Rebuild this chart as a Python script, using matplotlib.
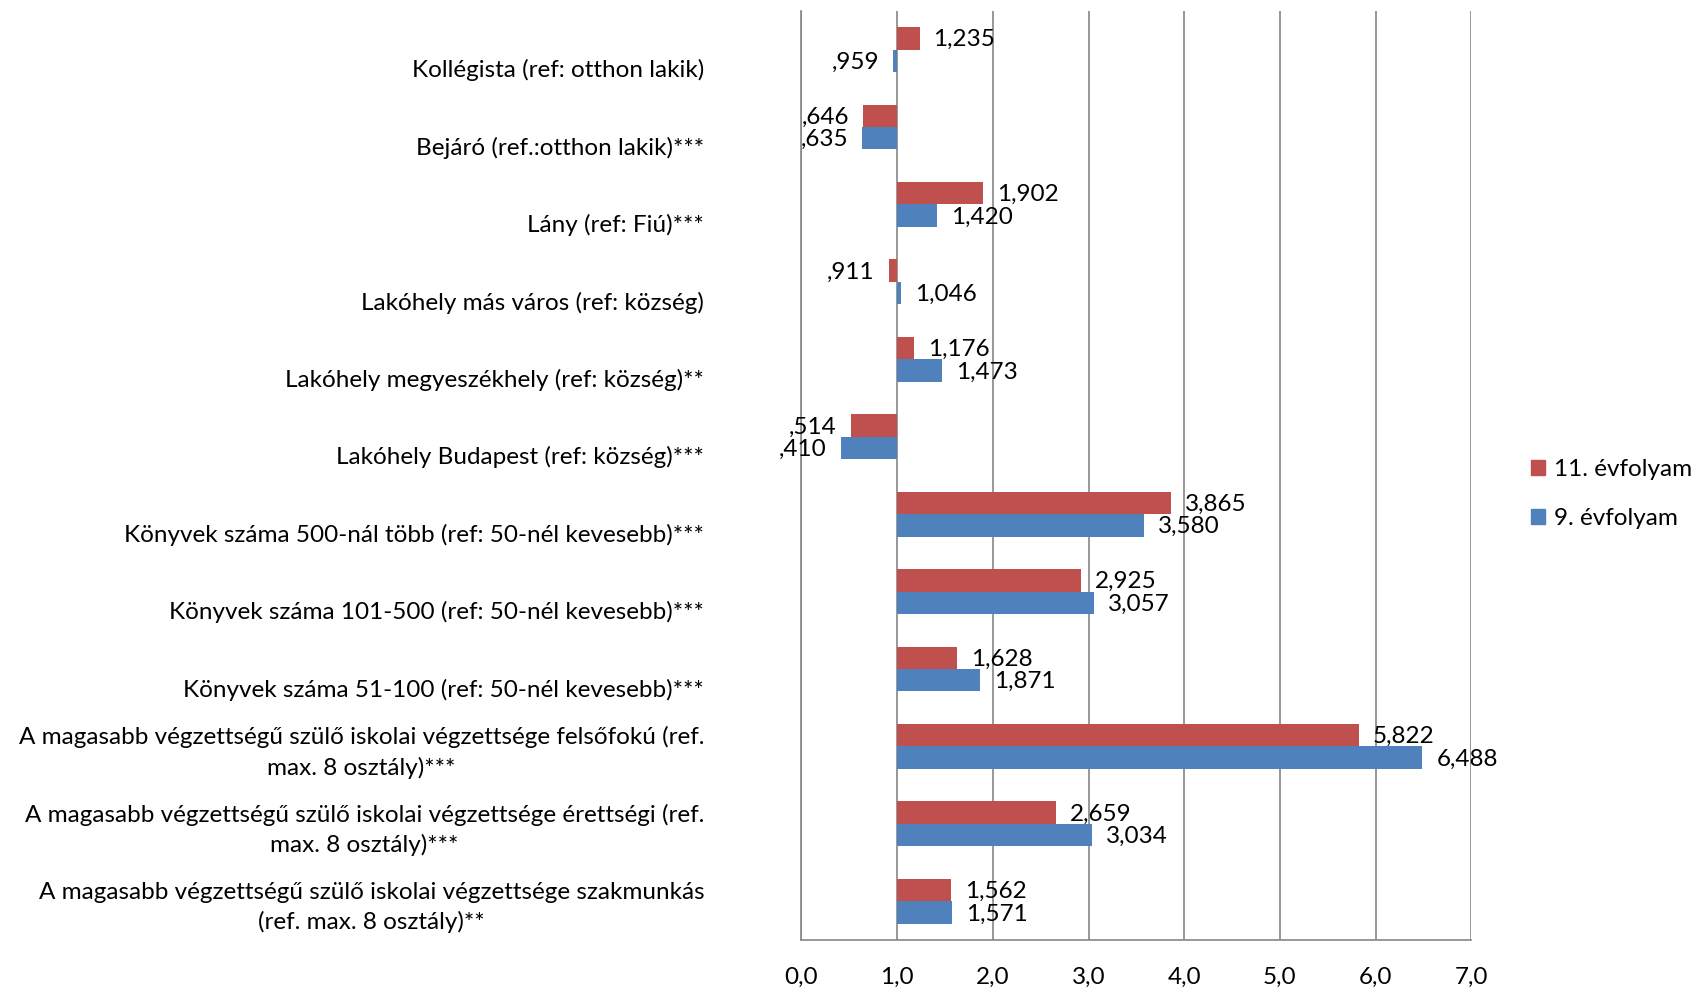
import matplotlib
matplotlib.use("Agg")
import matplotlib.pyplot as plt
from matplotlib.patches import Patch
import numpy as np

plt.rcParams['font.family'] = ['Lato', 'DejaVu Sans']

categories = [
    "Kollégista (ref: otthon lakik)",
    "Bejáró (ref.:otthon lakik)***",
    "Lány (ref: Fiú)***",
    "Lakóhely más város (ref: község)",
    "Lakóhely megyeszékhely (ref: község)**",
    "Lakóhely Budapest (ref: község)***",
    "Könyvek száma 500-nál több (ref: 50-nél kevesebb)***",
    "Könyvek száma 101-500 (ref: 50-nél kevesebb)***",
    "Könyvek száma 51-100 (ref: 50-nél kevesebb)***",
    "A magasabb végzettségű szülő iskolai végzettsége felsőfokú (ref.\nmax. 8 osztály)***",
    "A magasabb végzettségű szülő iskolai végzettsége érettségi (ref.\nmax. 8 osztály)***",
    "A magasabb végzettségű szülő iskolai végzettsége szakmunkás\n(ref. max. 8 osztály)**",
]
grade11 = [1.235, 0.646, 1.902, 0.911, 1.176, 0.514, 3.865, 2.925, 1.628, 5.822, 2.659, 1.562]
grade9 = [0.959, 0.635, 1.420, 1.046, 1.473, 0.410, 3.580, 3.057, 1.871, 6.488, 3.034, 1.571]
series_names = ["11. évfolyam", "9. évfolyam"]
xticks = [0, 1, 2, 3, 4, 5, 6, 7]

RED = "#C0504D"
BLUE = "#4F81BD"
GRID = "#868686"
FS = 17.5


def fmt(v):
    s = "%.3f" % v
    s = s.replace(".", ",")
    if s.startswith("0"):
        s = s[1:]
    return s


fig = plt.figure(figsize=(17.05, 9.9), dpi=100)
ax = fig.add_axes([0.470, 0.0505, 0.393, 0.9385])

y = np.arange(len(categories))
h = 0.29
base = 1.0
for vals, off, col in [(grade11, -h / 2, RED), (grade9, h / 2, BLUE)]:
    widths = [v - base for v in vals]
    ax.barh(y + off, widths, height=h, left=base, color=col, zorder=3)
    for yi, v in zip(y + off, vals):
        if v >= base:
            ax.annotate(fmt(v), (v, yi), xytext=(10, -1), textcoords="offset points",
                        ha="left", va="center", fontsize=FS, zorder=4)
        else:
            ax.annotate(fmt(v), (v, yi), xytext=(-10, -1), textcoords="offset points",
                        ha="right", va="center", fontsize=FS, zorder=4)

ax.set_xlim(0, 7)
ax.set_ylim(len(categories) - 0.5, -0.5)
ax.set_xticks(xticks)
ax.set_xticklabels(["%d,0" % t for t in xticks], fontsize=FS)
ax.tick_params(axis="x", length=0, pad=19)

# single-line labels sit low in the original, like the second line of a two-line block
labels = [c if "\n" in c else "\n" + c for c in categories]
ax.set_yticks(y)
ax.set_yticklabels(labels, fontsize=FS)
ax.tick_params(axis="y", length=0, pad=70)
for t in ax.get_yticklabels():
    t.set_multialignment("center")
    t.set_linespacing(1.45)

ax.grid(axis="x", color=GRID, linewidth=1.2, zorder=0)
for s in ["top", "right"]:
    ax.spines[s].set_visible(False)
for s in ["left", "bottom"]:
    ax.spines[s].set_color(GRID)
    ax.spines[s].set_linewidth(1.2)

handles = [Patch(color=RED), Patch(color=BLUE)]
fig.legend(handles, series_names, loc="center left", bbox_to_anchor=(0.885, 0.501),
           frameon=False, fontsize=FS, handlelength=0.6, handleheight=0.6,
           handletextpad=0.35, labelspacing=1.15)

fig.savefig("out.png", dpi=100)
